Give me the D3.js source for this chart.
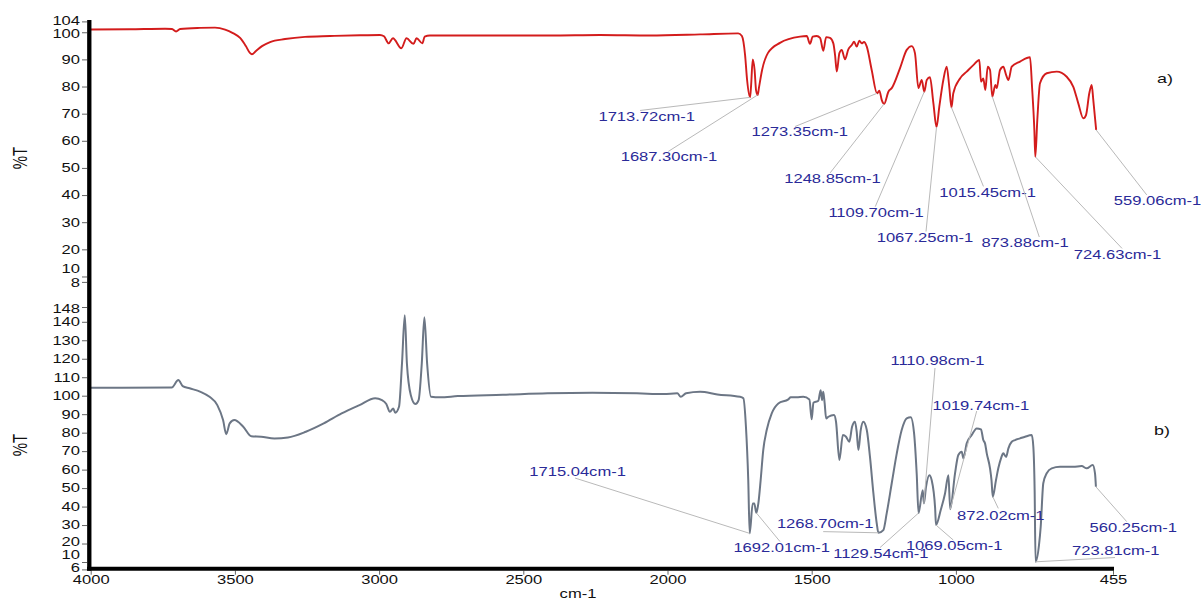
<!DOCTYPE html>
<html>
<head>
<meta charset="utf-8">
<script src="https://cdn.jsdelivr.net/npm/d3@7"></script>
<style>
  body { margin: 0; background: #fff; }
  svg { display: block; }
  text { font-family: "Liberation Sans", Arial, sans-serif; }
</style>
</head>
<body>
<svg id="chart" width="1201" height="601"></svg>
<script>
// ---- axis ticks ----
const xTicks = [4000, 3500, 3000, 2500, 2000, 1500, 1000, 455];
const yTicksA = [104, 100, 90, 80, 70, 60, 50, 40, 30, 20, 10, 8];
const yTicksB = [148, 140, 130, 120, 110, 100, 90, 80, 70, 60, 50, 40, 30, 20, 10, 6];

// ---- spectrum a): [wavenumber cm-1, %T] ----
const spectrumA = [
  [4000,101.0],[3864,101.1],[3742,101.3],[3718,101.2],[3704,100.3],[3690,101.2],[3621,101.6],
  [3569,101.7],[3534,101.0],[3507,99.7],[3482,97.9],[3462,94.9],[3448,92.4],[3441,91.9],
  [3427,93.1],[3406,94.9],[3378,96.4],[3326,97.5],[3257,98.3],[3170,98.6],[3066,98.9],
  [2997,99.0],[2983,98.5],[2967,95.9],[2952,97.8],[2923,94.1],[2905,97.8],[2881,95.7],
  [2870,97.8],[2850,95.9],[2842,98.4],[2824,98.8],[2650,98.8],[2407,98.8],[2234,99.0],
  [2061,98.8],[1887,99.2],[1755,99.6],[1742,98.6],[1731,91.6],[1724,82.4],[1713.72,76.0],
  [1710,80.6],[1704.5,90.0],[1698,86.1],[1693,78.7],[1687.30,76.9],[1683,79.5],[1672,86.1],
  [1651.5,92.4],[1610,96.1],[1540.5,98.4],[1517,98.6],[1506,95.7],[1496.5,98.4],[1482.6,98.6],
  [1471,97.9],[1459.7,93.2],[1450,98.2],[1436.5,97.9],[1425,95.9],[1419,91.6],[1413,85.5],
  [1404,92.3],[1396,93.5],[1384.5,90.0],[1373,93.7],[1361,95.3],[1353,96.5],[1344,94.7],
  [1335,96.9],[1326.5,95.9],[1318.6,96.4],[1309,94.7],[1292,86.1],[1273.35,77.5],[1265.5,78.5],
  [1257,75.0],[1248.85,73.6],[1234,78.1],[1222.5,79.4],[1194,86.7],[1170.5,93.5],[1153,94.9],
  [1142,92.3],[1130,79.4],[1118.5,82.4],[1109.70,78.1],[1101,82.4],[1090,83.4],[1078,73.8],
  [1067.25,65.0],[1057.5,72.6],[1043.6,82.4],[1032,87.3],[1023,79.9],[1015.45,72.3],[1009,77.5],
  [985.7,83.0],[962.5,85.5],[939.6,87.9],[918.8,89.8],[913,81.8],[905,83.0],[898,78.7],
  [889.7,87.3],[881.7,86.1],[873.88,76.3],[863.3,80.6],[858.4,79.4],[847,86.1],[835.6,87.3],
  [826,84.3],[818,82.4],[806.4,87.3],[777.6,89.2],[743,90.8],[736,79.9],[728,64.0],
  [724.63,54.1],[719.1,67.7],[711.8,81.2],[693.6,84.9],[666.5,85.5],[639.4,83.6],[621.5,79.9],
  [608,73.8],[594.4,68.3],[587.1,69.5],[578.2,77.5],[571.7,80.6],[567.3,75.0],[559.06,64.0]
];

// ---- spectrum b): [wavenumber cm-1, %T] ----
const spectrumB = [
  [4000,104.3],[3719,104.5],[3696,108.5],[3681,105.2],[3657,104.0],[3619,102.1],[3588,99.4],
  [3561,94.9],[3541,86.8],[3530,79.2],[3518,85.0],[3502,86.8],[3471,83.2],[3443,78.1],
  [3409,77.8],[3363,76.9],[3316,77.4],[3254,80.5],[3192,85.0],[3130,90.4],[3068,94.9],
  [3013.5,98.6],[2990,97.6],[2975,95.5],[2962.5,91.3],[2951,93.1],[2944,90.8],[2931,94.0],
  [2920.6,117.5],[2911,143.6],[2903.6,117.5],[2890,100.3],[2874,95.5],[2863,97.6],[2852,117.5],
  [2843,142.4],[2833.5,117.5],[2820,99.4],[2789,99.1],[2727,99.8],[2571,100.5],[2416,101.3],
  [2261,101.6],[2106,101.3],[2013,100.9],[1966,101.3],[1954,99.4],[1935.5,101.3],[1887,102.1],
  [1827,100.7],[1748.5,99.4],[1737,98.6],[1728,83.2],[1720,54.3],[1715.04,25.5],[1704.5,41.7],
  [1699,41.7],[1692.01,36.6],[1685,41.7],[1677,54.3],[1668,70.6],[1656,81.4],[1638.6,90.4],
  [1615.7,95.8],[1581,98.0],[1572.7,99.1],[1552,99.1],[1529,99.4],[1508,98.0],[1500,87.2],
  [1494,96.2],[1477,97.3],[1469,103.0],[1464,97.6],[1460,102.1],[1455,95.8],[1450,87.7],
  [1442,88.6],[1422.6,89.5],[1415.7,85.9],[1404,65.2],[1392,78.7],[1381,77.8],[1369.6,75.1],
  [1360,83.2],[1350,85.9],[1344,80.5],[1338,70.6],[1330,81.4],[1321,85.9],[1309,81.4],
  [1298,67.0],[1286,47.1],[1274.5,30.9],[1268.70,25.8],[1251.6,27.3],[1240,36.3],[1222.5,52.6],
  [1205,68.8],[1188,81.4],[1170.5,87.7],[1156.6,88.3],[1145,79.6],[1136,58.0],[1129.54,36.5],
  [1115,48.9],[1110.98,41.7],[1103.6,50.7],[1092,57.0],[1084,54.3],[1072,39.0],[1069.05,30.0],
  [1052.6,38.1],[1037.7,47.1],[1026,57.0],[1019.74,38.6],[1003,58.0],[991.6,67.9],[979.8,69.7],
  [974,66.1],[962.5,74.2],[945,78.7],[928,82.3],[913,81.8],[905,76.0],[899,74.2],[893,68.8],
  [881.7,60.7],[876.6,54.3],[872.02,45.3],[861,54.3],[853,60.7],[843.6,66.1],[835.6,68.8],
  [826,66.9],[818,71.5],[806.4,75.1],[795,76.0],[777.6,76.9],[760.3,77.8],[737,78.7],
  [731.5,72.4],[727,48.9],[723.81,10.1],[714.5,19.2],[709.9,29.1],[702.9,52.6],[693.6,58.0],
  [680.1,60.7],[657.6,61.5],[621.5,61.5],[598.8,61.9],[585.2,60.7],[569,62.5],[562.7,58.0],
  [560.25,50.7]
];

// ---- marked absorption bands (cm-1) ----
const peaksA = [1713.72, 1687.30, 1273.35, 1248.85, 1109.70, 1067.25, 1015.45, 873.88, 724.63, 559.06];
const peaksB = [1715.04, 1692.01, 1268.70, 1129.54, 1110.98, 1069.05, 1019.74, 872.02, 723.81, 560.25];

// caption placement relative to each band: [text dx, text dy, leader dx, leader dy] in px
const captionLayoutA = [
  [-103.3, 19.1, -110, 13.1], [-88.7, 62, -89.4, 56.5], [-77.3, 38.7, -82, 33.2],
  [-51.6, 75.1, -54, 69], [-48.2, 121.3, -49, 115], [-11.5, 110.3, -10.5, 104.3],
  [36.1, 85.1, 32, 79], [32.8, 146.4, 47, 140.4], [82.2, 97.6, 86.7, 91.6],
  [61.4, 71, 50.6, 65]
];
const captionLayoutB = [
  [-172.1, -61.3, -174.6, -55.3], [25.4, 34.7, 23.7, 28.7], [-53.2, -8.7, -55.2, -1.2],
  [-37.7, 41, -38.5, 34.5], [13.6, -142.4, 11.1, -135.4], [18.2, 21, 17.3, 15],
  [30.6, -103.6, 26.5, -98.1], [8, 19.3, 5.5, 11.6], [80.2, -10.8, 79.4, -4.3],
  [37.4, 40.8, 30.8, 34.8]
];

// ---- drawing ----
const svg = d3.select("#chart");
const SX = 1.38;               // horizontal stretch of all lettering
const fmt = d3.format(".2f");

const x = d3.scaleLinear().domain([4000, 724, 560, 455]).range([90.7, 1035.5, 1096, 1113]);
const yA = d3.scaleLinear().domain([8, 104]).range([281.9, 21.4]);
const yB = d3.scaleLinear().domain([6, 148]).range([569.4, 307]);

function drawSpectrum(data, y, color, width) {
  svg.append("path")
    .datum(data)
    .attr("fill", "none")
    .attr("stroke", color)
    .attr("stroke-width", width)
    .attr("stroke-linejoin", "round")
    .attr("d", d3.line().curve(d3.curveMonotoneX).x(d => x(d[0])).y(d => y(d[1])));
}

function drawCaptions(peaks, layout, data, y) {
  const g = svg.append("g");
  peaks.forEach((wn, i) => {
    const pt = data.find(d => d[0] === wn);
    const px = x(wn), py = y(pt[1]);
    const [tx, ty, ax, ay] = layout[i];
    g.append("line")
      .attr("x1", px).attr("y1", py)
      .attr("x2", px + ax).attr("y2", py + ay)
      .attr("stroke", "#b9b9b9").attr("stroke-width", 1);
    g.append("text")
      .attr("transform", `translate(${px + tx},${py + ty}) scale(${SX},1)`)
      .attr("text-anchor", "middle")
      .attr("dy", "0.36em")
      .attr("font-size", 12)
      .attr("fill", "#2a2a98")
      .text(fmt(wn) + "cm-1");
  });
}

function drawYAxis(scale, ticks, nudge) {
  const g = svg.append("g")
    .attr("transform", "translate(87,0)")
    .call(d3.axisLeft(scale).tickValues(ticks).tickSize(5).tickPadding(2).tickFormat(d3.format("d")));
  g.select(".domain").remove();
  g.selectAll(".tick line").attr("stroke", "#666");
  g.selectAll(".tick text")
    .attr("font-family", "'Liberation Sans', Arial, sans-serif")
    .attr("font-size", 12)
    .attr("fill", "#111")
    .attr("x", -7 / SX)
    .attr("y", d => nudge[d] || 0)
    .attr("transform", `scale(${SX},1)`);
}

drawSpectrum(spectrumA, yA, "#d31c1c", 1.9);
drawSpectrum(spectrumB, yB, "#6c7685", 2);

drawCaptions(peaksA, captionLayoutA, spectrumA, yA);
drawCaptions(peaksB, captionLayoutB, spectrumB, yB);

drawYAxis(yA, yTicksA, { 104: -0.5, 100: 1.2, 10: -7.8, 8: 1 });
drawYAxis(yB, yTicksB, { 148: 1.3, 20: -2, 10: -7, 6: -2 });

// x axis
const gx = svg.append("g")
  .attr("transform", "translate(0,570.7)")
  .call(d3.axisBottom(x).tickValues(xTicks).tickSize(4).tickPadding(1).tickFormat(d3.format("d")));
gx.select(".domain").remove();
gx.selectAll(".tick line").attr("stroke", "#666");
gx.selectAll(".tick text")
  .attr("font-family", "'Liberation Sans', Arial, sans-serif")
  .attr("font-size", 12)
  .attr("fill", "#111")
  .attr("transform", `scale(${SX},1)`);

// heavy axis bars
svg.append("line").attr("x1", 89.3).attr("x2", 89.3).attr("y1", 20).attr("y2", 570.7)
  .attr("stroke", "#000").attr("stroke-width", 4.3);
svg.append("line").attr("x1", 87).attr("x2", x(455) + 1).attr("y1", 568.7).attr("y2", 568.7)
  .attr("stroke", "#000").attr("stroke-width", 4);

// titles
function stretched(tx, ty, str, size, extra) {
  return svg.append("text")
    .attr("transform", `translate(${tx},${ty}) scale(${SX},1)` + (extra || ""))
    .attr("text-anchor", "middle")
    .attr("dy", "0.36em")
    .attr("font-size", size)
    .attr("fill", "#111")
    .text(str);
}
stretched(578, 594, "cm-1", 12);
stretched(20, 158, "%T", 15, " rotate(-90)");
stretched(20, 445, "%T", 15, " rotate(-90)");
stretched(1165, 78, "a)", 13).attr("font-family", "'Liberation Serif', 'Times New Roman', serif");
stretched(1162, 430, "b)", 13).attr("font-family", "'Liberation Serif', 'Times New Roman', serif");
</script>
</body>
</html>
